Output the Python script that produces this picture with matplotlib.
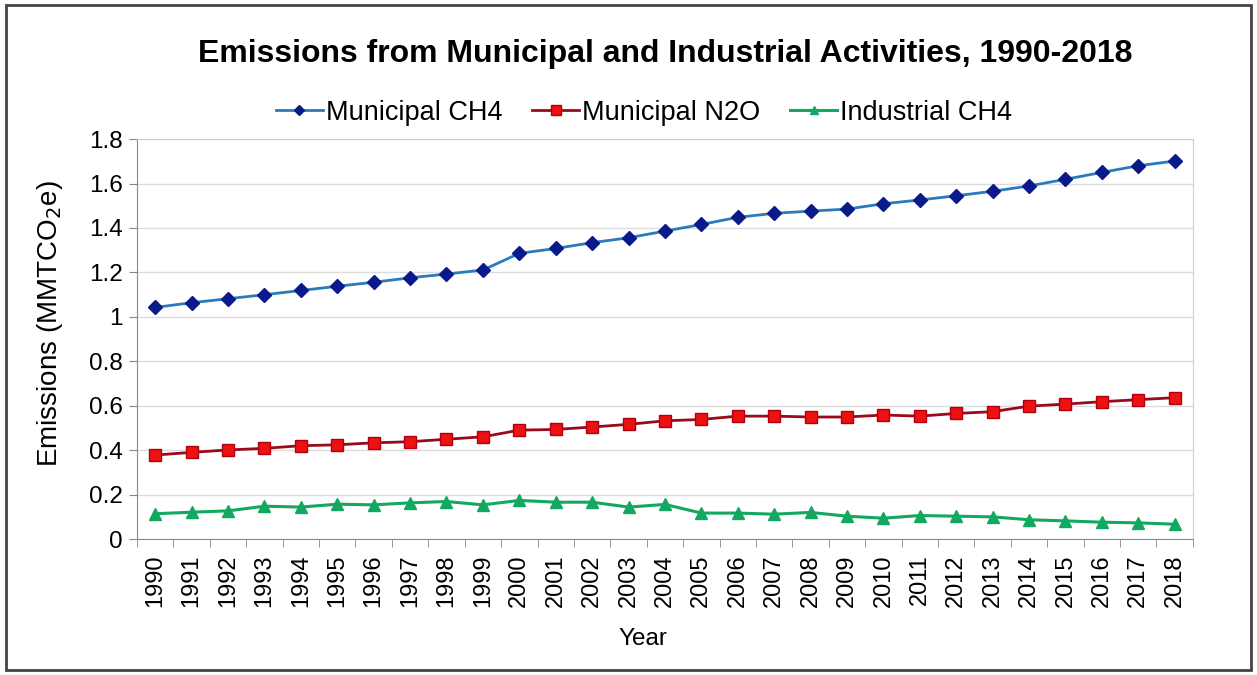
import matplotlib.pyplot as plt
import numpy as np
from matplotlib.patches import Rectangle
from matplotlib.ticker import FixedLocator

plt.rcParams['font.family'] = ['Liberation Sans', 'DejaVu Sans']

# Emissions in MMTCO2e
years = [str(y) for y in range(1990, 2019)]
municipal_ch4 = [1.043, 1.064, 1.082, 1.100, 1.119, 1.138, 1.156, 1.176, 1.193, 1.211,
                 1.286, 1.308, 1.334, 1.356, 1.386, 1.416, 1.448, 1.466, 1.476, 1.485,
                 1.509, 1.526, 1.545, 1.565, 1.589, 1.619, 1.650, 1.680, 1.701]
municipal_n2o = [0.379, 0.391, 0.402, 0.409, 0.421, 0.425, 0.434, 0.439, 0.450, 0.461,
                 0.491, 0.494, 0.505, 0.517, 0.533, 0.539, 0.554, 0.554, 0.550, 0.550,
                 0.559, 0.554, 0.566, 0.574, 0.599, 0.608, 0.619, 0.628, 0.637]
industrial_ch4 = [0.115, 0.122, 0.128, 0.149, 0.145, 0.158, 0.155, 0.164, 0.170, 0.155,
                  0.175, 0.167, 0.167, 0.145, 0.157, 0.118, 0.118, 0.113, 0.121, 0.104,
                  0.095, 0.107, 0.104, 0.101, 0.088, 0.083, 0.077, 0.074, 0.068]

fig = plt.figure(figsize=(12.57, 6.75), dpi=100)
ax = fig.add_axes([0.109, 0.201, 0.840, 0.593])

x = np.arange(len(years))
ax.plot(x, municipal_ch4, color='#2b7bba', lw=2, marker='D', ms=7,
        mfc='#0a1a8a', mec='#0a1a8a', label='Municipal CH4', zorder=3)
ax.plot(x, municipal_n2o, color='#9a0a1a', lw=2, marker='s', ms=9,
        mfc='#ee1111', mec='#b00010', label='Municipal N2O', zorder=3)
ax.plot(x, industrial_ch4, color='#12a860', lw=2.2, marker='^', ms=8,
        mfc='#12a860', mec='#12a860', label='Industrial CH4', zorder=3)

ax.set_xlim(-0.5, len(years) - 0.5)
ax.set_ylim(0, 1.8)
ax.set_yticks(np.arange(0, 1.81, 0.2))
ax.set_yticklabels(['0', '0.2', '0.4', '0.6', '0.8', '1', '1.2', '1.4', '1.6', '1.8'])
ax.set_xticks(x)
ax.set_xticklabels(years, rotation=90)
ax.xaxis.set_minor_locator(FixedLocator(np.arange(-0.5, len(years), 1)))
ax.tick_params(axis='x', which='major', length=0, labelsize=17, pad=11)
ax.tick_params(axis='x', which='minor', length=6, color='#888888')
ax.tick_params(axis='y', length=6, color='#888888', labelsize=17.5, pad=4)

ax.grid(axis='y', color='#dcdcdc', lw=1)
ax.set_axisbelow(True)
for side in ['top', 'right']:
    ax.spines[side].set_color('#d0d0d0')
for side in ['left', 'bottom']:
    ax.spines[side].set_color('#888888')

ax.set_ylabel('Emissions (MMTCO$_2$e)', fontsize=20)
ax.yaxis.set_label_coords(-0.068, 0.538)
ax.set_xlabel('Year', fontsize=17.5)
ax.xaxis.set_label_coords(0.479, -0.222)

fig.text(0.529, 0.92, 'Emissions from Municipal and Industrial Activities, 1990-2018',
         ha='center', va='center', fontsize=23, fontweight='bold')
ax.legend(loc='lower center', bbox_to_anchor=(0.48, 1.0), ncol=3, frameon=False,
          fontsize=19.5, handlelength=1.75, handletextpad=0.1, columnspacing=1.1,
          borderaxespad=0.1, markerscale=0.8)

# outer frame around the whole figure
fig.patches.append(Rectangle((0.005, 0.008), 0.99, 0.984, transform=fig.transFigure,
                             fill=False, edgecolor='#444444', lw=2))

fig.savefig('out.png', dpi=100)
